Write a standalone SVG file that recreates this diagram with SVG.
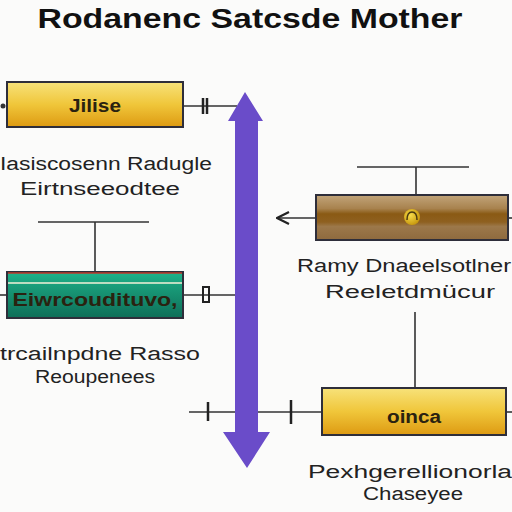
<svg xmlns="http://www.w3.org/2000/svg" width="512" height="512" viewBox="0 0 512 512">
<defs>
<linearGradient id="gy" x1="0" y1="0" x2="0" y2="1">
<stop offset="0" stop-color="#f7e27a"/><stop offset="0.5" stop-color="#f0c63a"/><stop offset="1" stop-color="#dd9a12"/>
</linearGradient>
<linearGradient id="gg" x1="0" y1="0" x2="0" y2="1">
<stop offset="0" stop-color="#1fb48c"/><stop offset="0.25" stop-color="#1aa07c"/><stop offset="1" stop-color="#0e6e58"/>
</linearGradient>
<linearGradient id="gb" x1="0" y1="0" x2="0" y2="1">
<stop offset="0" stop-color="#c2a57a"/><stop offset="0.3" stop-color="#a8824e"/><stop offset="0.42" stop-color="#8a5a14"/><stop offset="0.6" stop-color="#8e6020"/><stop offset="0.7" stop-color="#9c784a"/><stop offset="1" stop-color="#8e6a3e"/>
</linearGradient>
<radialGradient id="gc" cx="0.4" cy="0.4" r="0.6">
<stop offset="0" stop-color="#f6dc4a"/><stop offset="1" stop-color="#c99a10"/>
</radialGradient>
<marker id="open" viewBox="0 0 14 14" refX="13" refY="7" markerWidth="14" markerHeight="14" markerUnits="userSpaceOnUse" orient="auto">
<path d="M1 1 L13 7 L1 13" fill="none" stroke="#222" stroke-width="2.2"/>
</marker>
</defs>
<style>
.ln{stroke:#333;stroke-width:1.6;fill:none}
.tk{stroke:#222;stroke-width:2.5;fill:none}
.lbl{font-family:"Liberation Sans",Arial,sans-serif;font-size:18px;fill:#222;text-anchor:middle}
.btx{font-family:"Liberation Sans",Arial,sans-serif;font-size:18px;font-weight:bold;fill:#2a2210;text-anchor:middle}
.box{stroke:#2e2e3a;stroke-width:2}
</style>
<rect width="512" height="512" fill="#fbfbfa"/>
<text x="250" y="28" font-family="Liberation Sans,Arial,sans-serif" font-size="27" font-weight="bold" fill="#111" text-anchor="middle" textLength="425" lengthAdjust="spacingAndGlyphs">Rodanenc Satcsde Mother</text>

<g id="connectors">
<line class="ln" x1="183" y1="106" x2="237" y2="106"/>
<line class="tk" x1="203" y1="98" x2="203" y2="114"/>
<line class="tk" x1="207" y1="98" x2="207" y2="114"/>
<circle cx="3" cy="106" r="2.5" fill="#333"/>
<line class="ln" x1="38" y1="222" x2="149" y2="222"/>
<line class="ln" x1="95" y1="222" x2="95" y2="272"/>
<line class="ln" x1="0" y1="295" x2="7" y2="295"/>
<line class="ln" x1="183" y1="295" x2="236" y2="295"/>
<rect x="203" y="287" width="6" height="15" fill="none" stroke="#222" stroke-width="2"/>
<line class="ln" x1="357" y1="167" x2="469" y2="167"/>
<line class="ln" x1="416" y1="167" x2="416" y2="195"/>
<line class="ln" x1="316" y1="218" x2="277" y2="218" marker-end="url(#open)"/>
<line class="ln" x1="508" y1="218" x2="512" y2="218"/>
<line class="ln" x1="415" y1="312" x2="415" y2="388"/>
<line class="ln" x1="189" y1="412" x2="322" y2="412"/>
<line class="tk" x1="208" y1="402" x2="208" y2="421"/>
<line class="tk" x1="291" y1="400" x2="291" y2="424"/>
<line class="ln" x1="506" y1="412" x2="512" y2="412"/>
</g>

<g id="arrow">
<path d="M245 92 L263 121 L258 121 L258 432 L270 432 L247 468 L223 432 L235 432 L235 121 L228 121 Z" fill="#6a4cc9"/>
</g>

<g id="node1">
<rect class="box" x="7" y="82" width="176" height="45" fill="url(#gy)"/>
<text class="btx" x="95" y="112" textLength="52" lengthAdjust="spacingAndGlyphs">Jilise</text>
<text class="lbl" x="106" y="170" textLength="212" lengthAdjust="spacingAndGlyphs">Iasiscosenn Radugle</text>
<text class="lbl" x="100" y="195" textLength="160" lengthAdjust="spacingAndGlyphs">Eirtnseeodtee</text>
</g>

<g id="node2">
<rect class="box" x="7" y="272" width="176" height="46" fill="url(#gg)"/>
<line x1="8" y1="273" x2="182" y2="273" stroke="#c0392b" stroke-width="1.5"/>
<line x1="8" y1="283" x2="182" y2="283" stroke="#f4f1d8" stroke-width="1.5"/>
<text class="btx" x="95" y="306" fill="#1a1a1a" textLength="165" lengthAdjust="spacingAndGlyphs">Eiwrcoudituvo,</text>
<text class="lbl" x="100" y="360" textLength="200" lengthAdjust="spacingAndGlyphs">trcailnpdne Rasso</text>
<text class="lbl" x="95" y="383" textLength="120" lengthAdjust="spacingAndGlyphs">Reoupenees</text>
</g>

<g id="node3">
<rect class="box" x="316" y="195" width="192" height="45" fill="url(#gb)"/>
<circle cx="412" cy="217" r="8" fill="url(#gc)"/>
<path d="M407 220 Q407 212 412 212 Q417 212 417 220" fill="none" stroke="#4a3a10" stroke-width="1.5"/>
<text class="lbl" x="404" y="272" textLength="214" lengthAdjust="spacingAndGlyphs">Ramy Dnaeelsotlner</text>
<text class="lbl" x="410" y="298" textLength="170" lengthAdjust="spacingAndGlyphs">Reeletdmücur</text>
</g>

<g id="node4">
<rect class="box" x="322" y="388" width="184" height="47" fill="url(#gy)"/>
<text class="btx" x="414" y="423" textLength="54" lengthAdjust="spacingAndGlyphs">oinca</text>
<text class="lbl" x="410" y="478" textLength="204" lengthAdjust="spacingAndGlyphs">Pexhgerellionorla</text>
<text class="lbl" x="413" y="500" textLength="100" lengthAdjust="spacingAndGlyphs">Chaseyee</text>
</g>
</svg>
